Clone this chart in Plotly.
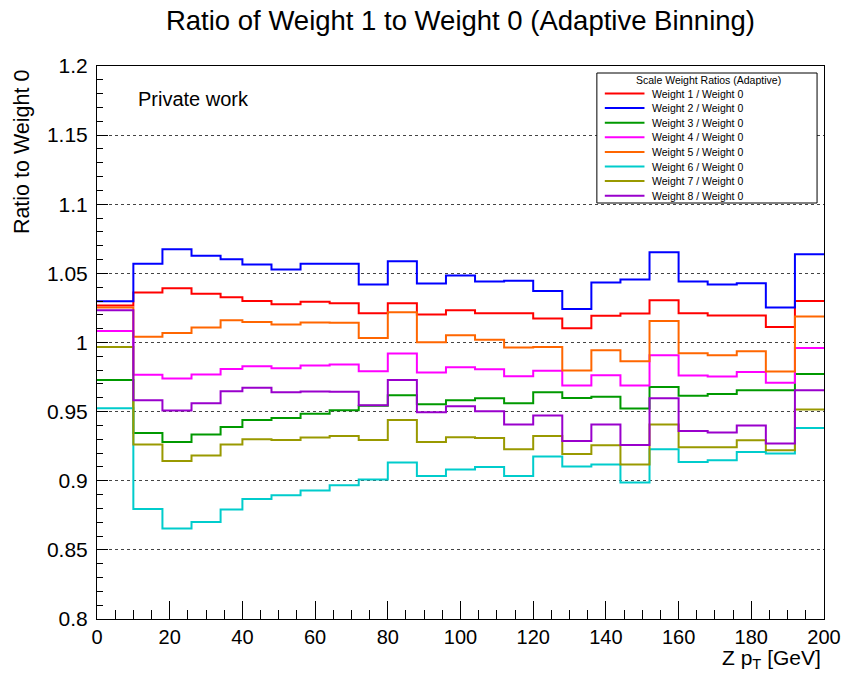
import plotly.graph_objects as go

# Adaptive bin edges in Z pT [GeV]
edges = [0, 10, 18, 26, 34, 40, 48, 56, 64, 72, 80, 88, 96, 104, 112, 120,
         128, 136, 144, 152, 160, 168, 176, 184, 192, 200]

# Ratio of each scale weight to the nominal weight, per bin
w1 = [1.0268, 1.0362, 1.0393, 1.0352, 1.0328, 1.0301, 1.0277, 1.0294, 1.0284, 1.0212,
      1.0284, 1.0202, 1.0234, 1.0212, 1.0212, 1.0174, 1.0103, 1.0193, 1.0210, 1.0306,
      1.0212, 1.0195, 1.0195, 1.0113, 1.0301]
w2 = [1.0299, 1.0569, 1.0675, 1.0627, 1.0603, 1.0564, 1.0528, 1.0569, 1.0569, 1.0420,
      1.0588, 1.0427, 1.0485, 1.0441, 1.0446, 1.0373, 1.0243, 1.0434, 1.0456, 1.0653,
      1.0441, 1.0420, 1.0429, 1.0253, 1.0639]
w3 = [0.9729, 0.9346, 0.9281, 0.9334, 0.9389, 0.9440, 0.9454, 0.9484, 0.9510, 0.9542,
      0.9619, 0.9554, 0.9582, 0.9597, 0.9561, 0.9640, 0.9598, 0.9607, 0.9523, 0.9679,
      0.9614, 0.9628, 0.9655, 0.9655, 0.9773]
w4 = [1.0084, 0.9766, 0.9740, 0.9768, 0.9809, 0.9829, 0.9814, 0.9834, 0.9841, 0.9792,
      0.9920, 0.9783, 0.9821, 0.9807, 0.9756, 0.9795, 0.9689, 0.9763, 0.9689, 0.9908,
      0.9761, 0.9754, 0.9787, 0.9708, 0.9961]
w5 = [1.0253, 1.0041, 1.0069, 1.0109, 1.0161, 1.0149, 1.0130, 1.0145, 1.0142, 1.0033,
      1.0219, 1.0002, 1.0053, 1.0019, 0.9964, 0.9968, 0.9797, 0.9944, 0.9865, 1.0156,
      0.9923, 0.9908, 0.9937, 0.9790, 1.0188]
w6 = [0.9524, 0.8796, 0.8654, 0.8702, 0.8792, 0.8868, 0.8895, 0.8929, 0.8967, 0.9009,
      0.9132, 0.9035, 0.9081, 0.9100, 0.9035, 0.9175, 0.9103, 0.9117, 0.8987, 0.9228,
      0.9136, 0.9148, 0.9208, 0.9197, 0.9382]
w7 = [0.9968, 0.9262, 0.9143, 0.9182, 0.9262, 0.9300, 0.9295, 0.9313, 0.9324, 0.9295,
      0.9440, 0.9281, 0.9315, 0.9310, 0.9228, 0.9324, 0.9193, 0.9257, 0.9117, 0.9407,
      0.9242, 0.9242, 0.9293, 0.9221, 0.9515]
w8 = [1.0234, 0.9582, 0.9508, 0.9561, 0.9648, 0.9672, 0.9640, 0.9645, 0.9643, 0.9546,
      0.9729, 0.9496, 0.9539, 0.9503, 0.9407, 0.9472, 0.9288, 0.9407, 0.9259, 0.9597,
      0.9360, 0.9349, 0.9399, 0.9269, 0.9655]

series_names = ["Weight 1 / Weight 0", "Weight 2 / Weight 0", "Weight 3 / Weight 0",
                "Weight 4 / Weight 0", "Weight 5 / Weight 0", "Weight 6 / Weight 0",
                "Weight 7 / Weight 0", "Weight 8 / Weight 0"]
series_values = [w1, w2, w3, w4, w5, w6, w7, w8]
series_colors = ["#FF0000", "#0000FF", "#009900", "#FF00FF",
                 "#FF6600", "#00CCCC", "#999900", "#9900CC"]

x_tick_vals = [0, 20, 40, 60, 80, 100, 120, 140, 160, 180, 200]
x_tick_text = ["0", "20", "40", "60", "80", "100", "120", "140", "160", "180", "200"]
y_tick_vals = [0.8, 0.85, 0.9, 0.95, 1.0, 1.05, 1.1, 1.15, 1.2]
y_tick_text = ["0.8", "0.85", "0.9", "0.95", "1", "1.05", "1.1", "1.15", "1.2"]

FONT = "Liberation Sans, Arial, Helvetica, sans-serif"
W, H = 853, 673
ML, MR, MT, MB = 97, 23, 66, 54
PW, PH = W - ML - MR, H - MT - MB


def px(xp):
    """Horizontal page pixel -> paper fraction."""
    return (xp - ML) / PW


def py(yp):
    """Vertical page pixel (from top) -> paper fraction."""
    return (H - MB - yp) / PH


fig = go.Figure()

# Step histograms: each bin's content held flat across the bin
for name, vals, col in zip(series_names, series_values, series_colors):
    fig.add_trace(go.Scatter(
        x=edges, y=vals + [vals[-1]], mode="lines", name=name,
        line=dict(color=col, width=2, shape="hv"), showlegend=False,
    ))

# Legend box drawn in page space
shapes = [dict(type="rect", xref="paper", yref="paper",
               x0=px(601), x1=px(823), y0=py(203), y1=py(73),
               line=dict(color="black", width=1), fillcolor="white", layer="above")]
annotations = [dict(text="Scale Weight Ratios (Adaptive)", xref="paper", yref="paper",
                    x=px(714), y=py(79.5), xanchor="center", yanchor="middle",
                    showarrow=False, font=dict(family=FONT, size=10.5, color="black"))]
for i, (name, col) in enumerate(zip(series_names, series_colors)):
    yy = 93.5 + i * 14.6
    shapes.append(dict(type="line", xref="paper", yref="paper",
                       x0=px(609), x1=px(649), y0=py(yy), y1=py(yy),
                       line=dict(color=col, width=2), layer="above"))
    annotations.append(dict(text=name, xref="paper", yref="paper",
                            x=px(655), y=py(yy), xanchor="left", yanchor="middle",
                            showarrow=False, font=dict(family=FONT, size=10.5, color="black")))

annotations += [
    dict(text="Private work", xref="paper", yref="paper", x=px(136), y=py(99),
         xanchor="left", yanchor="middle", showarrow=False,
         font=dict(family=FONT, size=20, color="black")),
    dict(text="Ratio to Weight 0", xref="paper", yref="paper", x=px(21), y=py(67),
         xanchor="center", yanchor="top", textangle=-90, showarrow=False,
         font=dict(family=FONT, size=21.5, color="black")),
    dict(text="Z p<sub>T</sub> [GeV]", xref="paper", yref="paper", x=px(829), y=py(644),
         xanchor="right", yanchor="top", showarrow=False,
         font=dict(family=FONT, size=21, color="black")),
]

fig.update_layout(
    width=W, height=H,
    margin=dict(l=ML, r=MR, t=MT, b=MB, pad=0),
    paper_bgcolor="white", plot_bgcolor="white",
    title=dict(text="Ratio of Weight 1 to Weight 0 (Adaptive Binning)",
               x=0.5, xref="paper", xanchor="center",
               y=1 - 20 / H, yref="container", yanchor="middle",
               font=dict(family=FONT, size=27.5, color="black")),
    font=dict(family=FONT, color="black"),
    shapes=shapes,
    annotations=annotations,
    showlegend=False,
)

fig.update_xaxes(
    range=[0, 200], tickmode="array", tickvals=x_tick_vals, ticktext=x_tick_text,
    ticks="inside", ticklen=18, tickwidth=1, tickcolor="black",
    minor=dict(ticks="inside", ticklen=9, tickmode="linear", tick0=0, dtick=5,
               tickcolor="black", tickwidth=1, showgrid=False),
    showline=True, linecolor="black", linewidth=1, mirror=True,
    showgrid=False, zeroline=False,
    tickfont=dict(family=FONT, size=20, color="black"), ticklabelstandoff=0,
)
fig.update_yaxes(
    range=[0.8, 1.2], tickmode="array", tickvals=y_tick_vals, ticktext=y_tick_text,
    ticks="inside", ticklen=11, tickwidth=1, tickcolor="black",
    minor=dict(ticks="inside", ticklen=6, tickmode="linear", tick0=0.8, dtick=0.01,
               tickcolor="black", tickwidth=1, showgrid=False),
    showline=True, linecolor="black", linewidth=1, mirror=True,
    showgrid=True, gridcolor="#444444", gridwidth=1, griddash="dot",
    zeroline=False,
    tickfont=dict(family=FONT, size=21, color="black"), ticklabelstandoff=4,
)

fig.write_html("out.html")
